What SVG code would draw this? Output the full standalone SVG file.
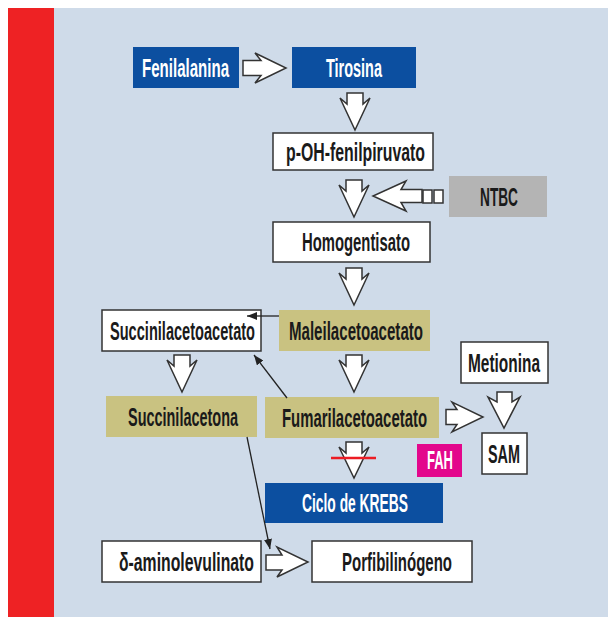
<svg xmlns="http://www.w3.org/2000/svg" width="608" height="617" viewBox="0 0 608 617">
<defs>
<style>
.t{font-family:"Liberation Sans",Arial,sans-serif;font-size:25px;font-weight:bold;fill:#1a1a1a}
.w{fill:#ffffff}
.bw{fill:#ffffff;stroke:#333333;stroke-width:1.5}
.bb{fill:#0c4fa0}
.bo{fill:#c9c281}
.bg{fill:#b4b4b4}
.bm{fill:#e3078c}
.ba{fill:#ffffff;stroke:#333333;stroke-width:1.5;stroke-linejoin:miter}
.ln{fill:none;stroke:#222222;stroke-width:1.3}
</style>
<marker id="ah" viewBox="0 0 10 8" refX="10" refY="4" markerWidth="10" markerHeight="8" markerUnits="userSpaceOnUse" orient="auto">
<path d="M0,0 L10,4 L0,8 Z" fill="#222222"/>
</marker>
</defs>
<rect x="0" y="0" width="608" height="617" fill="#ffffff"/>
<rect x="54" y="8" width="554" height="609" fill="#cfdbe9"/>
<rect x="8" y="8" width="46" height="609" fill="#ee2224"/>

<g id="fenilalanina"><rect class="bb" x="133" y="47" width="106" height="41"/><text class="t w" x="142" y="77" textLength="87" lengthAdjust="spacingAndGlyphs">Fenilalanina</text></g>
<g id="tirosina"><rect class="bb" x="292" y="47" width="124" height="41"/><text class="t w" x="326" y="77" textLength="56" lengthAdjust="spacingAndGlyphs">Tirosina</text></g>
<g id="pohfenilpiruvato"><rect class="bw" x="273" y="133" width="160" height="37"/><text class="t" x="286" y="161" textLength="139" lengthAdjust="spacingAndGlyphs">p-OH-fenilpiruvato</text></g>
<g id="ntbc"><rect class="bg" x="449" y="176" width="98" height="41"/><text class="t" x="480" y="206" textLength="38" lengthAdjust="spacingAndGlyphs">NTBC</text></g>
<g id="homogentisato"><rect class="bw" x="273" y="222" width="157" height="40"/><text class="t" x="302" y="251" textLength="108" lengthAdjust="spacingAndGlyphs">Homogentisato</text></g>
<g id="succinilacetoacetato"><rect class="bw" x="102" y="310" width="159" height="41"/><text class="t" x="110" y="340" textLength="145" lengthAdjust="spacingAndGlyphs">Succinilacetoacetato</text></g>
<g id="maleilacetoacetato"><rect class="bo" x="279" y="310" width="151" height="41"/><text class="t" x="289" y="340" textLength="134" lengthAdjust="spacingAndGlyphs">Maleilacetoacetato</text></g>
<g id="succinilacetona"><rect class="bo" x="106" y="396" width="151" height="41"/><text class="t" x="128" y="426" textLength="110" lengthAdjust="spacingAndGlyphs">Succinilacetona</text></g>
<g id="fumarilacetoacetato"><rect class="bo" x="265" y="397" width="174" height="41"/><text class="t" x="282" y="427" textLength="145" lengthAdjust="spacingAndGlyphs">Fumarilacetoacetato</text></g>
<g id="metionina"><rect class="bw" x="461" y="342" width="87" height="41"/><text class="t" x="468" y="372" textLength="72" lengthAdjust="spacingAndGlyphs">Metionina</text></g>
<g id="sam"><rect class="bw" x="482" y="433" width="45" height="41"/><text class="t" x="488" y="463" textLength="32" lengthAdjust="spacingAndGlyphs">SAM</text></g>
<g id="fah"><rect class="bm" x="417" y="444" width="45" height="33"/><text class="t w" x="427" y="469" textLength="26" lengthAdjust="spacingAndGlyphs">FAH</text></g>
<g id="krebs"><rect class="bb" x="265" y="483" width="178" height="40"/><text class="t w" x="302" y="512" textLength="106" lengthAdjust="spacingAndGlyphs">Ciclo de KREBS</text></g>
<g id="aminolevulinato"><rect class="bw" x="102" y="541" width="159" height="41"/><text class="t" x="119" y="571" textLength="135" lengthAdjust="spacingAndGlyphs">δ-aminolevulinato</text></g>
<g id="porfibilinogeno"><rect class="bw" x="312" y="541" width="160" height="41"/><text class="t" x="342" y="571" textLength="110" lengthAdjust="spacingAndGlyphs">Porfibilinógeno</text></g>

<g id="connectors">
<path class="ba" d="M243,60.5 L261,60.5 L255,53 L286,68 L255,83 L261,75.5 L243,75.5 Z"/>
<path class="ba" d="M347,93 L363,93 L363,104 L370,98 L355,130 L340,98 L347,104 Z"/>
<path class="ba" d="M346,180 L362,180 L362,191 L369,185 L354,217 L339,185 L346,191 Z"/>
<path class="ba" d="M422,189.5 L401,189.5 L406,181 L373,196 L406,211 L401,202.5 L422,202.5 Z"/>
<rect class="ba" x="423" y="190" width="9" height="13"/>
<rect class="ba" x="434" y="190" width="9" height="13"/>
<path class="ba" d="M346,268 L362,268 L362,279 L369,273 L354,305 L339,273 L346,279 Z"/>
<path class="ba" d="M346,355 L362,355 L362,366 L369,360 L354,392 L339,360 L346,366 Z"/>
<path class="ba" d="M174,355 L190,355 L190,366 L197,360 L182,392 L167,360 L174,366 Z"/>
<path class="ba" d="M346,442 L362,442 L362,453 L369,447 L354,478 L339,447 L346,453 Z"/>
<path class="ba" d="M497,392 L512,392 L512,402 L520,397 L504,428 L488,397 L497,402 Z"/>
<path class="ba" d="M446,409.5 L457,409.5 L452,402 L483,417 L452,432 L457,424.5 L446,424.5 Z"/>
<path class="ba" d="M266,555 L282,555 L277,547 L308,562 L277,577 L282,570 L266,570 Z"/>
<line x1="331" y1="458" x2="376" y2="458" stroke="#ec1c24" stroke-width="2.5"/>
<line class="ln" x1="279" y1="316" x2="247" y2="316" marker-end="url(#ah)"/>
<line class="ln" x1="287" y1="398" x2="254" y2="355" marker-end="url(#ah)"/>
<line class="ln" x1="247" y1="437" x2="270" y2="549" marker-end="url(#ah)"/>
</g>
</svg>
